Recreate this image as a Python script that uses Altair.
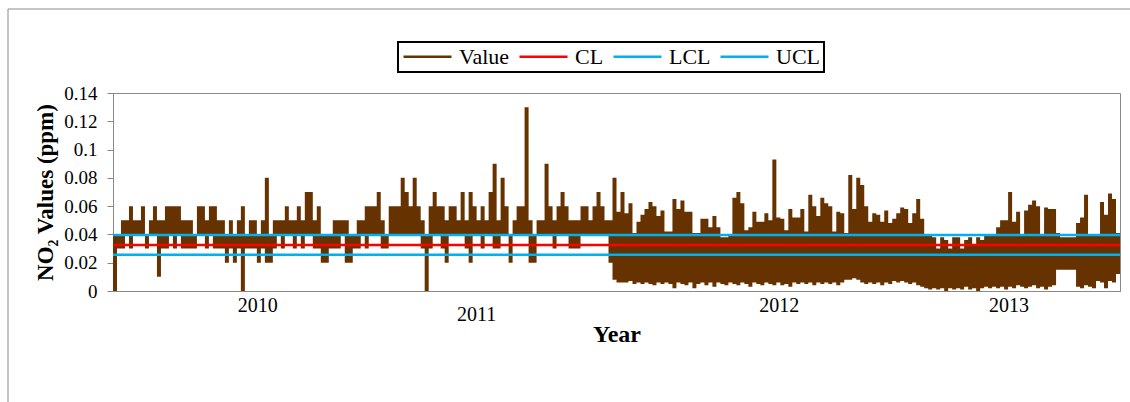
import altair as alt
import pandas as pd

# ---- data (NO2, ppb; one entry per plotted column) ----
value_high_ppb = [
    40, 40, 50, 50, 60, 50, 50, 60, 40, 50,
    60, 50, 50, 60, 60, 60, 60, 50, 50, 50,
    40, 60, 60, 50, 60, 60, 50, 50, 40, 50,
    40, 50, 60, 40, 50, 50, 40, 50, 80, 40,
    50, 50, 50, 60, 50, 50, 60, 50, 70, 70,
    50, 60, 40, 40, 40, 50, 50, 50, 50, 40,
    40, 50, 50, 60, 60, 60, 70, 50, 40, 60,
    60, 60, 80, 70, 60, 80, 60, 50, 40, 60,
    70, 60, 60, 50, 60, 60, 50, 70, 50, 70,
    60, 50, 60, 50, 70, 90, 50, 80, 60, 40,
    50, 60, 60, 130, 50, 40, 50, 50, 90, 60,
    50, 60, 70, 60, 50, 50, 50, 60, 60, 50,
    60, 70, 60, 50, 50, 80, 56, 70, 55, 62,
    41, 49, 54, 58, 63, 60, 53, 57, 42, 42,
    65, 58, 64, 56, 56, 41, 41, 51, 51, 45,
    53, 45, 38, 38, 40, 66, 70, 62, 43, 45,
    56, 49, 49, 55, 50, 93, 52, 51, 43, 58,
    52, 52, 58, 42, 68, 60, 53, 66, 62, 60,
    42, 56, 55, 41, 82, 58, 80, 75, 60, 49,
    55, 54, 49, 57, 48, 51, 55, 59, 58, 48,
    55, 65, 51, 40, 39, 38, 30, 38, 36, 30,
    38, 38, 30, 36, 38, 32, 38, 36, 40, 40,
    40, 45, 50, 50, 70, 49, 56, 40, 57, 61,
    64, 60, 40, 59, 58, 58, 41, 38, 38, 38,
    38, 48, 52, 68, 40, 40, 40, 63, 54, 69,
    65, 41,
]
value_low_ppb = [
    0, 30, 30, 40, 30, 40, 40, 40, 30, 40,
    40, 10, 30, 30, 40, 30, 40, 30, 30, 30,
    30, 40, 40, 30, 40, 30, 30, 30, 20, 30,
    20, 30, 0, 30, 30, 30, 20, 30, 20, 20,
    30, 40, 30, 40, 40, 30, 40, 30, 40, 40,
    30, 30, 20, 20, 30, 30, 30, 40, 20, 20,
    30, 30, 40, 30, 40, 40, 40, 30, 30, 40,
    40, 40, 40, 40, 40, 40, 40, 30, 0, 30,
    40, 40, 30, 20, 40, 40, 40, 40, 30, 20,
    40, 40, 30, 40, 40, 30, 30, 40, 40, 20,
    40, 40, 40, 40, 20, 20, 40, 40, 40, 40,
    30, 40, 40, 40, 30, 30, 30, 40, 40, 40,
    40, 40, 40, 40, 20, 8, 6, 6, 6, 7,
    5, 6, 5, 6, 5, 4, 6, 5, 6, 5,
    2, 6, 5, 4, 6, 2, 5, 6, 4, 6,
    3, 6, 5, 4, 6, 5, 4, 6, 5, 3,
    6, 5, 4, 6, 5, 4, 6, 4, 5, 3,
    6, 5, 6, 5, 6, 4, 6, 5, 6, 5,
    6, 4, 6, 8, 8, 9, 8, 6, 5, 6,
    5, 6, 4, 6, 5, 7, 6, 7, 6, 5,
    6, 4, 3, 2, 1, 2, 1, 2, 0, 2,
    1, 2, 1, 3, 1, 2, 0, 2, 3, 2,
    3, 2, 3, 1, 3, 2, 4, 3, 2, 3,
    4, 2, 3, 1, 3, 4, 15, 15, 15, 15,
    15, 3, 2, 4, 3, 2, 7, 6, 2, 7,
    6, 12,
]

limit_names = ["CL", "LCL", "UCL"]
limit_values = [0.0326, 0.0256, 0.0396]

legend_names = ["Value", "CL", "LCL", "UCL"]
legend_colors = ["#663300", "#FF0000", "#00B0F0", "#00B0F0"]

year_labels = ["2010", "2011", "2012", "2013"]
year_label_col = [36.25, 91.0, 166.75, 224.25]
year_label_row = [0, 1, 0, 0]

y_ticks = [0, 0.02, 0.04, 0.06, 0.08, 0.1, 0.12, 0.14]

# ---- tables ----
n = len(value_high_ppb)
series_rows = [
    {"col": i, "hi": h / 1000.0, "lo": l / 1000.0}
    for i, (h, l) in enumerate(zip(value_high_ppb, value_low_ppb))
]
series_rows.append({"col": n, "hi": value_high_ppb[-1] / 1000.0, "lo": value_low_ppb[-1] / 1000.0})
series_df = pd.DataFrame(series_rows)
limits_df = pd.DataFrame({"name": limit_names, "hi": limit_values})
years_df = pd.DataFrame({"label": year_labels, "col": year_label_col, "row": year_label_row})

FONT = "Liberation Serif"
GRAY = "#898989"

x_scale = alt.Scale(domain=[0, n], nice=False, zero=False)
y_scale = alt.Scale(domain=[0, 0.14], nice=False, zero=True)

x_axis = alt.Axis(
    labels=False, ticks=False, grid=False, domainColor=GRAY,
    title="Year", titleFont=FONT, titleFontSize=24, titleFontWeight="bold",
    titleColor="black", titleY=43, titleBaseline="middle",
)
y_axis = alt.Axis(
    values=y_ticks, format=".2~f", grid=False, tickSize=6, tickColor=GRAY,
    domainColor=GRAY, labelFont=FONT, labelFontSize=19, labelColor="black",
    labelPadding=10, labelOverlap=False, labelFlush=False, labelSeparation=0,
    title="NO₂ Values (ppm)", titleFont=FONT, titleFontSize=23,
    titleFontWeight="bold", titleColor="black", titleX=-68, titleY=99,
    titleBaseline="middle", titleAngle=270,
)

frame = alt.Chart(alt.Data(values=[{}])).mark_rect(filled=False, stroke=GRAY, strokeWidth=1).encode(
    x=alt.value(-105), x2=alt.value(1030), y=alt.value(-84), y2=alt.value(330)
)

area = alt.Chart(series_df).mark_area(interpolate="step-after", color="#663300").encode(
    x=alt.X("col:Q", scale=x_scale, axis=x_axis),
    y=alt.Y("hi:Q", scale=y_scale, axis=y_axis),
    y2="lo:Q",
)

rules = alt.Chart(limits_df).mark_rule(strokeWidth=2.5).encode(
    y=alt.Y("hi:Q", scale=y_scale, axis=y_axis),
    stroke=alt.Stroke(
        "name:N",
        scale=alt.Scale(domain=legend_names, range=legend_colors),
        legend=alt.Legend(
            title=None, orient="none", legendX=285, legendY=-51, direction="horizontal",
            symbolType="stroke", symbolSize=2304, symbolStrokeWidth=2.5, clipHeight=21,
            labelFont=FONT, labelFontSize=22, labelColor="black", labelOffset=6,
            columnPadding=8, padding=4, strokeColor="black",
        ),
    ),
)

year_text = alt.Chart(years_df).mark_text(font=FONT, fontSize=20, color="black", baseline="middle")
t_main = year_text.transform_filter(alt.datum.row == 0).encode(
    x=alt.X("col:Q", scale=x_scale, axis=x_axis), y=alt.value(213), text="label:N"
)
t_low = year_text.transform_filter(alt.datum.row == 1).encode(
    x=alt.X("col:Q", scale=x_scale, axis=x_axis), y=alt.value(222), text="label:N"
)

chart = (
    alt.layer(frame, area, rules, t_main, t_low)
    .properties(
        width=1007,
        height=198,
        padding={"left": 113, "top": 93, "right": 10, "bottom": 111},
        autosize=alt.AutoSizeParams(type="none"),
        background="white",
    )
    .configure_view(stroke=GRAY)
    .configure_legend(strokeWidth=2)
    .configure_axisY(labelOverlap=False)
)

chart.save("out.html", embed_options={"renderer": "svg", "actions": False})
